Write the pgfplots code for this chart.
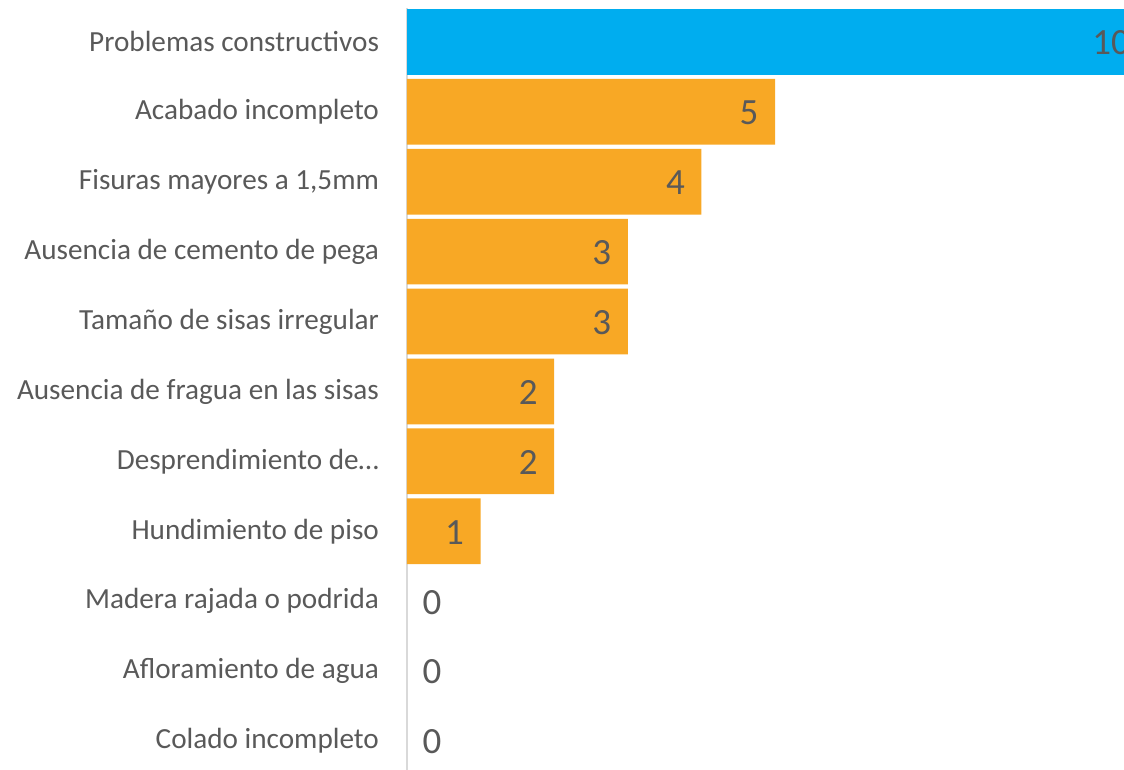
\documentclass[border=0pt]{standalone}
\usepackage{pgfplots}
\pgfplotsset{compat=1.18}
\usepackage{fontspec}
\setmainfont{Carlito}
\definecolor{cblue}{RGB}{0,173,239}
\definecolor{corange}{RGB}{248,168,37}
\definecolor{ctext}{RGB}{89,89,89}
\definecolor{caxis}{RGB}{217,217,217}
\begin{document}
\begin{tikzpicture}
\begin{axis}[
  scale only axis,
  width=358.5pt, height=381pt,
  xmin=0, xmax=9.74,
  ymin=-0.485, ymax=10.415,
  y dir=reverse,
  xbar, bar shift=0pt, bar width=0.94,
  axis x line=none,
  axis y line*=left,
  y axis line style={draw=caxis, line width=1pt, -},
  ytick={0,...,10},
  yticklabels={{Problemas constructivos}, {Acabado incompleto}, {Fisuras mayores a 1,5mm}, {Ausencia de cemento de pega}, {Tamaño de sisas irregular}, {Ausencia de fragua en las sisas}, {Desprendimiento de…}, {Hundimiento de piso}, {Madera rajada o podrida}, {Afloramiento de agua}, {Colado incompleto}},
  yticklabel style={font=\fontsize{14.6}{16}\selectfont, text=ctext, xshift=-10.5pt},
  major tick length=0pt,
  ytick style={draw=none},
  clip=false,
  /pgf/number format/assume math mode=true,
  nodes near coords,
  every node near coord/.append style={font=\fontsize{18.5}{20}\selectfont, text=ctext, anchor=center, yshift=-0.5pt},
]
\addplot[fill=cblue, draw=none, nodes near coords style={xshift=-16pt}] coordinates {(10,0)};
\addplot[fill=corange, draw=none, nodes near coords style={xshift=-13pt}] coordinates {(5,1) (4,2) (3,3) (3,4) (2,5) (2,6) (1,7)};
\addplot[fill=none, draw=none, nodes near coords style={xshift=12.5pt}] coordinates {(0,8) (0,9) (0,10)};
\end{axis}
\pgfresetboundingbox
\path[use as bounding box] ([xshift=-203.5pt]current axis.south west) rectangle ([yshift=4pt]current axis.north east);
\end{tikzpicture}
\end{document}
